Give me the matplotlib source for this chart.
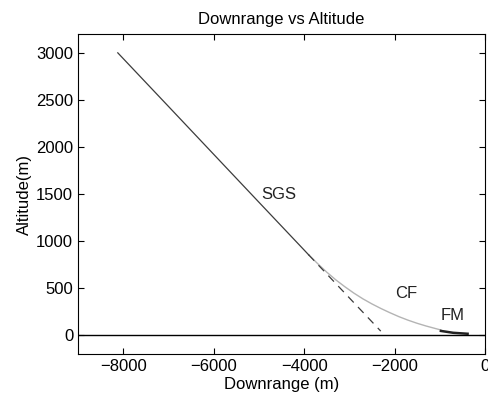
import numpy as np
import matplotlib as mpl
import matplotlib.pyplot as plt

mpl.rcParams["font.family"] = ["Liberation Sans", "DejaVu Sans"]
mpl.rcParams["font.size"] = 12

# trajectory by phase (downrange m, altitude m)
sgs_x = [-8120, -7000, -6000, -5000, -4500, -4000, -3900]
sgs_y = [3000, 2431, 1922, 1413, 1159, 905, 854]

cf_x = [-3900, -3700, -3500, -3300, -3100, -2900, -2700, -2500, -2300,
        -2100, -1900, -1700, -1500, -1300, -1100, -975]
cf_y = [854, 760, 670, 588, 515, 447, 386, 332, 283,
        238, 196, 159, 126, 97, 71, 55]

fm_x = [-975, -700, -385]
fm_y = [45, 25, 15]

# straight SGS path carried on past the CF switch
ext_x = [-3900, -2305]
ext_y = [854, 43]

labels = [("SGS", -4560, 1500), ("CF", -1750, 440), ("FM", -720, 205)]

fig = plt.figure(figsize=(4.89, 4.04), dpi=100)
ax = fig.add_axes([0.1595, 0.1238, 0.8323, 0.792])

ax.plot(cf_x, cf_y, color="#b4b4b4", lw=1.0)
ax.plot(sgs_x, sgs_y, color="#3c3c3c", lw=0.9)
ax.plot(ext_x, ext_y, color="#3c3c3c", lw=0.9, dashes=(6.5, 5))
ax.plot(fm_x, fm_y, color="#222222", lw=1.8)
ax.axhline(0, color="black", lw=1.0)

for txt, x, y in labels:
    ax.text(x, y, txt, ha="center", va="center", fontsize=12, color="#222222")

ax.set_xlim(-9000, 0)
ax.set_ylim(-200, 3200)
ax.set_xticks(np.arange(-8000, 1, 2000))
ax.set_yticks(np.arange(0, 3001, 500))
ax.tick_params(direction="in", top=True, right=True, length=4, labelsize=12)

ax.set_title("Downrange vs Altitude", fontsize=12, pad=7)
ax.set_xlabel("Downrange (m)", labelpad=2)
ax.set_ylabel("Altitude(m)", labelpad=3)

fig.savefig("out.png", dpi=100)
